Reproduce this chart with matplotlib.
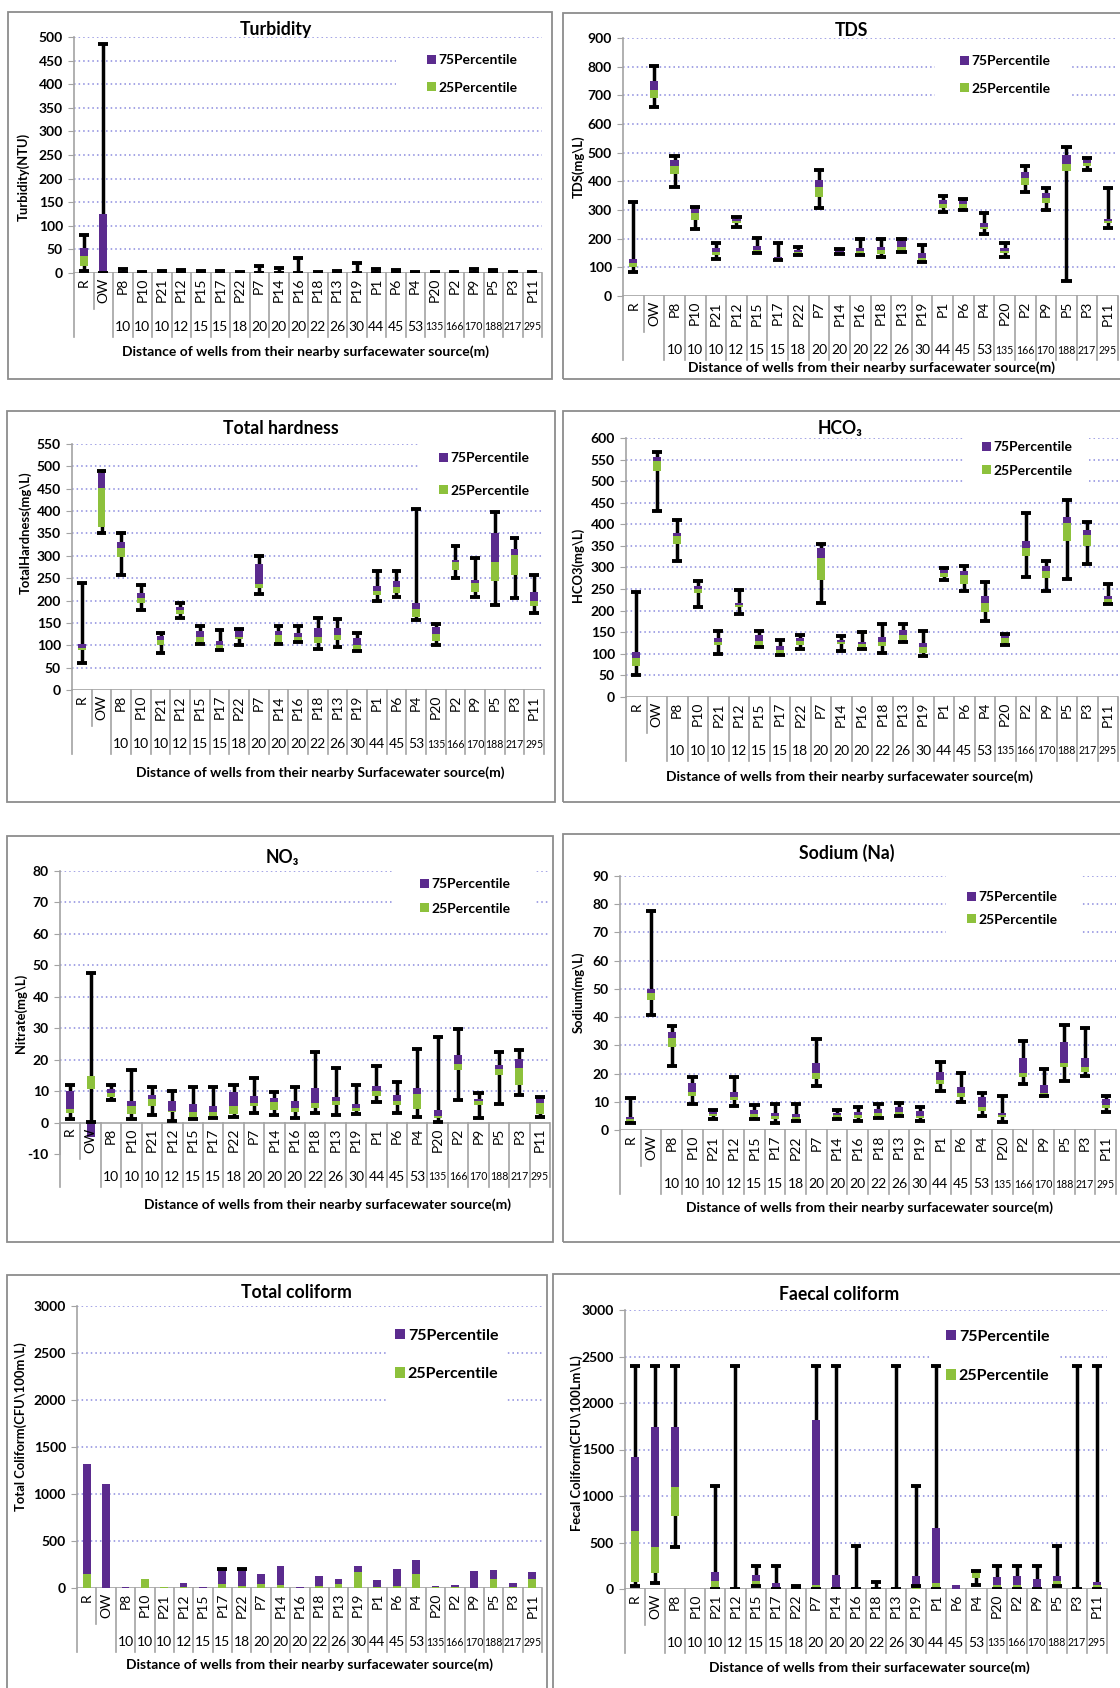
import numpy as np
import matplotlib.pyplot as plt
import matplotlib.transforms as mtransforms
from matplotlib.patches import Rectangle
from matplotlib.lines import Line2D

plt.rcParams['font.family'] = ['Lato', 'DejaVu Sans']

W, H = 1120, 1688
PURPLE = '#5b2b8e'
GREEN = '#8dc13c'
GRID = '#8a8ade'
AXIS = '#a3a3a3'
nan = np.nan

wells = ['R', 'OW', 'P8', 'P10', 'P21', 'P12', 'P15', 'P17', 'P22', 'P7', 'P14', 'P16',
         'P18', 'P13', 'P19', 'P1', 'P6', 'P4', 'P20', 'P2', 'P9', 'P5', 'P3', 'P11']
distance = ['', '', '10', '10', '10', '12', '15', '15', '18', '20', '20', '20',
            '22', '26', '30', '44', '45', '53', '135', '166', '170', '188', '217', '295']

# Turbidity (NTU)
turb_min = [4, 0, 0, 0, 0, 0, 0, 0, 0, 0, 0, 0, 0, 0, 0, 0, 0, 0, 0, 0, 0, 0, 0, 0]
turb_q1 = [14, 0, 1, 0, 1, 1, 1, 1, 0, 1, 1, 1, 0, 1, 1, 1, 1, 0, 0, 0, 1, 1, 0, 0]
turb_med = [35, 0, 2, 1, 2, 2, 2, 2, 1, 2, 2, 2, 1, 2, 2, 2, 2, 1, 1, 1, 2, 2, 1, 1]
turb_q3 = [53, 124, 4, 1, 3, 4, 3, 3, 1, 4, 3, 3, 1, 3, 3, 4, 3, 1, 1, 1, 4, 3, 1, 1]
turb_max = [81, 486, 8, 2, 5, 7, 5, 5, 2, 15, 10, 31, 2, 5, 22, 8, 6, 2, 2, 2, 8, 6, 2, 2]

# TDS (mg/L)
tds_min = [82, 661, 380, 233, 128, 242, 149, 126, 143, 306, 147, 143, 135, 155, 120, 293, 300, 216, 137, 364, 300, 52, 438, 236]
tds_q1 = [100, 690, 425, 265, 143, 254, 152, 128, 150, 347, 150, 150, 145, 158, 122, 307, 308, 232, 150, 388, 325, 435, 455, 255]
tds_med = [115, 720, 452, 289, 155, 262, 162, 132, 155, 380, 155, 158, 160, 172, 132, 321, 320, 240, 158, 410, 342, 462, 465, 262]
tds_q3 = [130, 750, 475, 306, 166, 270, 175, 137, 160, 405, 160, 168, 172, 192, 150, 335, 332, 255, 168, 432, 358, 492, 475, 268]
tds_max = [329, 801, 489, 312, 184, 277, 204, 184, 170, 438, 164, 199, 199, 199, 178, 349, 338, 291, 184, 452, 376, 519, 481, 376]

# Total hardness (mg/L)
th_min = [60, 350, 257, 179, 82, 162, 102, 90, 101, 215, 102, 107, 91, 97, 88, 199, 207, 157, 101, 251, 209, 189, 205, 173]
th_q1 = [90, 365, 298, 195, 100, 170, 108, 95, 115, 228, 108, 108, 105, 112, 90, 213, 217, 164, 110, 268, 220, 243, 256, 187]
th_med = [95, 452, 317, 205, 112, 178, 119, 101, 118, 238, 122, 118, 118, 122, 100, 222, 231, 181, 125, 286, 239, 287, 302, 198]
th_q3 = [103, 485, 332, 217, 120, 185, 131, 110, 132, 282, 132, 128, 138, 138, 116, 233, 243, 194, 140, 290, 246, 352, 316, 219]
th_max = [240, 490, 351, 235, 127, 194, 143, 134, 137, 299, 143, 142, 162, 159, 128, 265, 267, 405, 148, 321, 296, 399, 340, 256]

# HCO3 (mg/L)
hco3_min = [50, 432, 316, 208, 100, 192, 115, 97, 111, 218, 107, 111, 103, 127, 94, 272, 246, 175, 121, 278, 246, 274, 307, 215]
hco3_q1 = [72, 523, 355, 241, 121, 208, 117, 103, 121, 272, 123, 115, 117, 133, 102, 277, 262, 198, 125, 326, 276, 361, 349, 218]
hco3_med = [90, 546, 372, 250, 127, 213, 129, 110, 129, 322, 128, 122, 127, 144, 115, 287, 282, 218, 137, 345, 291, 402, 376, 228]
hco3_q3 = [105, 557, 380, 257, 137, 218, 143, 118, 137, 345, 133, 128, 140, 156, 125, 295, 291, 233, 144, 362, 303, 416, 388, 233]
hco3_max = [243, 567, 411, 268, 154, 249, 152, 133, 144, 354, 142, 150, 169, 169, 152, 299, 303, 266, 146, 426, 316, 457, 405, 262]

# Nitrate (mg/L)
no3_min = [1.1, 0.3, 7.1, 1.0, 2.3, 0.5, 1.1, 1.6, 1.8, 3.0, 2.3, 1.4, 3.0, 2.3, 2.6, 6.5, 3.0, 1.8, 0.3, 7.1, 1.6, 5.8, 8.7, 1.8]
no3_q1 = [3.0, 10.6, 8.0, 2.6, 5.3, 3.2, 1.6, 1.8, 2.6, 5.3, 4.0, 3.2, 4.7, 5.5, 3.7, 8.4, 5.5, 4.4, 1.6, 16.7, 5.5, 15.0, 12.1, 2.6]
no3_med = [4.2, 14.8, 9.3, 5.3, 7.6, 3.8, 3.2, 3.2, 5.3, 6.3, 6.5, 4.7, 6.3, 6.9, 4.7, 10.0, 6.9, 9.0, 2.1, 18.5, 6.9, 17.1, 17.4, 6.1]
no3_q3 = [10.0, 10.3, 10.8, 6.9, 8.7, 6.8, 5.8, 5.3, 9.7, 8.4, 7.9, 6.9, 11.1, 8.1, 6.0, 11.6, 8.7, 11.1, 4.0, 21.6, 7.6, 18.2, 20.1, 7.9]
no3_max = [11.9, 47.7, 11.9, 16.7, 11.3, 10.0, 11.3, 11.3, 11.9, 14.2, 9.7, 11.3, 22.4, 17.4, 11.9, 17.9, 12.9, 23.4, 27.2, 29.6, 9.5, 22.4, 23.2, 8.0]

# Sodium (mg/L)
na_min = [2.6, 40.7, 22.7, 9.1, 3.8, 8.5, 3.8, 2.6, 3.2, 15.7, 3.8, 3.2, 4.4, 5.1, 3.2, 13.9, 10.0, 5.1, 2.7, 16.3, 12.2, 17.4, 19.1, 6.5]
na_q1 = [3.3, 46.0, 29.5, 12.0, 5.0, 10.6, 4.5, 4.0, 4.0, 18.0, 4.5, 4.4, 5.0, 5.7, 4.1, 16.2, 11.8, 6.9, 4.7, 18.7, 11.2, 22.4, 20.7, 7.9]
na_med = [3.8, 48.6, 32.5, 13.6, 5.7, 11.8, 5.7, 5.0, 4.6, 20.1, 5.2, 5.4, 5.9, 6.5, 5.0, 17.7, 13.2, 8.0, 5.3, 20.1, 13.2, 23.6, 22.4, 8.9]
na_q3 = [4.7, 50.0, 34.8, 16.5, 6.5, 13.6, 7.1, 6.0, 5.7, 23.6, 5.9, 6.3, 7.3, 8.3, 6.7, 20.4, 15.4, 11.8, 5.9, 25.4, 15.9, 31.3, 25.4, 11.0]
na_max = [11.5, 77.7, 37.0, 18.9, 7.1, 18.9, 8.9, 9.1, 9.1, 32.2, 7.1, 8.0, 9.1, 9.7, 8.0, 24.2, 20.3, 13.0, 12.0, 31.5, 21.6, 37.2, 36.0, 12.2]

# Total coliform (CFU/100 mL)
tc_min = [nan] * 24
tc_q1 = [0] * 24
tc_med = [146, 0, 5, 92, 8, 10, 5, 46, 25, 46, 30, 5, 20, 40, 170, 15, 20, 146, 10, 10, 0, 92, 10, 92]
tc_q3 = [1324, 1104, 10, 92, 8, 53, 10, 199, 199, 153, 234, 10, 128, 92, 234, 89, 206, 295, 25, 35, 178, 195, 53, 170]
tc_max = [nan, nan, nan, nan, nan, nan, nan, 205, 205, nan, nan, nan, nan, nan, nan, nan, nan, nan, nan, nan, nan, nan, nan, nan]

# Faecal coliform (CFU/100 mL)
fc_min = [32, 65, 450, nan, 0, 0, 36, 0, 0, 0, 0, 0, 0, 0, 29, 0, nan, 40, 0, 0, 0, 29, 0, 0]
fc_q1 = [70, 172, 785, nan, 0, 0, 47, 0, 0, 0, 0, 0, 0, 0, 0, 0, 0, 118, 0, 0, 0, 40, 0, 0]
fc_med = [624, 450, 1097, nan, 90, 15, 82, 0, 0, 47, 15, 0, 0, 0, 10, 64, 0, 185, 40, 40, 25, 82, 0, 47]
fc_q3 = [1420, 1747, 1747, nan, 185, 15, 154, 64, 5, 1819, 154, 20, 0, 0, 143, 655, 40, 185, 129, 143, 107, 143, 0, 72]
fc_max = [2400, 2400, 2400, nan, 1107, 2400, 243, 243, 36, 2400, 2400, 465, 72, 2400, 1110, 2400, nan, 190, 243, 243, 243, 465, 2400, 2400]

fig = plt.figure(figsize=(W / 100, H / 100), dpi=100)


def fx(px):
    return px / W


def fy(py):
    return 1 - py / H


def panel(frame, box, ylim, ystep, stats, title, title_xy, ylabel, ylabel_xy,
          xlabel, xlabel_xy, leg_rect, leg_x, leg_rows, leg_size=10):
    lo, q1, med, q3, hi = [np.asarray(s, dtype=float) for s in stats]

    # grey frame around the whole chart
    fl, ft, fr, fb = frame
    fig.add_artist(Rectangle((fx(fl), fy(fb)), (fr - fl) / W, (fb - ft) / H,
                             transform=fig.transFigure, fill=False,
                             edgecolor='#8c8c8c', lw=1.3))

    left, right, ytop, ybot = box
    ax = fig.add_axes([fx(left), fy(ybot), (right - left) / W, (ybot - ytop) / H])
    ax.set_xlim(-0.5, len(wells) - 0.5)
    ax.set_ylim(*ylim)
    ax.patch.set_alpha(0)
    for s in ['top', 'right', 'bottom']:
        ax.spines[s].set_visible(False)
    ax.spines['left'].set_color(AXIS)
    ax.spines['left'].set_linewidth(1.2)
    ticks = np.arange(ylim[0], ylim[1] + ystep / 2, ystep)
    ax.set_yticks(ticks)
    ax.set_yticklabels([f'{t:g}' for t in ticks], fontsize=10, fontweight='bold')
    ax.tick_params(axis='y', direction='out', length=4, color=AXIS, pad=4)
    ax.set_xticks([])
    for t in ticks:
        if t > 0:
            ax.axhline(t, color=GRID, lw=1.1, ls=(0, (1, 2)), zorder=0.5)
    ax.axhline(0, color=AXIS, lw=1.2, zorder=1.5)

    # stacked boxes: green 25th->median, purple median->75th (negatives hang from zero)
    x = np.arange(len(wells))
    g_h = med - q1
    p_h = q3 - med
    p_bottom = np.where(p_h >= 0, med, 0)
    ax.vlines(x, lo, hi, color='black', lw=2.5, zorder=2)
    pbar = ax.bar(x, p_h, bottom=p_bottom, width=0.4, color=PURPLE, zorder=3)
    gbar = ax.bar(x, g_h, bottom=q1, width=0.4, color=GREEN, zorder=3)
    for v in (lo, hi):
        ax.hlines(v, x - 0.25, x + 0.25, color='black', lw=2.8, zorder=4)

    # white legend background that breaks the gridlines
    rl, rt, rr, rb = leg_rect
    ax.add_patch(Rectangle((fx(rl), fy(rb)), (rr - rl) / W, (rb - rt) / H,
                           transform=fig.transFigure, facecolor='white',
                           edgecolor='none', zorder=1, clip_on=False))
    fs_px = leg_size * 100 / 72
    gap = leg_rows[1] - leg_rows[0]
    ax.legend([pbar, gbar], ['75Percentile', '25Percentile'], loc='center left',
              bbox_to_anchor=(fx(leg_x), fy(sum(leg_rows) / 2)),
              bbox_transform=fig.transFigure, frameon=False,
              prop={'size': leg_size, 'weight': 'bold'},
              handlelength=0.65, handleheight=0.65, handletextpad=0.15,
              labelspacing=(gap - 1.2 * fs_px) / fs_px, borderpad=0, borderaxespad=0)

    # two-level category axis below the zero line
    y0 = ytop + (ylim[1] - 0) / (ylim[1] - ylim[0]) * (ybot - ytop)
    trans = mtransforms.blended_transform_factory(ax.transData, fig.transFigure)
    for i in range(len(wells) + 1):
        depth = 36 if i == 1 else 64
        fig.add_artist(Line2D([i - 0.5, i - 0.5], [fy(y0), fy(y0 + depth)],
                              transform=trans, color=AXIS, lw=1.2))
    for i, (w, d) in enumerate(zip(wells, distance)):
        ax.text(i, fy(y0 + 5), w, rotation=90, ha='center', va='top', fontsize=10,
                transform=trans, clip_on=False)
        # three-digit distances are squeezed so they stay inside their cell
        ax.text(i, fy(y0 + 54), d, ha='center', va='center',
                fontsize=10 if len(d) < 3 else 7.6,
                transform=trans, clip_on=False)

    fig.text(fx(title_xy[0]), fy(title_xy[1]), title, ha='center', va='center',
             fontsize=12.7, fontweight='bold')
    fig.text(fx(ylabel_xy[0]), fy(ylabel_xy[1]), ylabel, rotation=90, ha='center',
             va='center', fontsize=9.4, fontweight='bold')
    fig.text(fx(xlabel_xy[0]), fy(xlabel_xy[1]), xlabel, ha='center', va='center',
             fontsize=10, fontweight='bold')


xl = 'Distance of wells from their nearby surfacewater source(m)'

panel((8, 12, 552, 379), (74, 542, 37, 273), (0, 500), 50,
      (turb_min, turb_q1, turb_med, turb_q3, turb_max),
      'Turbidity', (276, 29), 'Turbidity(NTU)', (23, 177), xl, (306, 352),
      (396, 42, 542, 104), 427, (58, 90))

panel((563, 13, 1130, 379), (623, 1118, 38, 296), (0, 900), 100,
      (tds_min, tds_q1, tds_med, tds_q3, tds_max),
      'TDS', (851, 30), 'TDS(mg\\L)', (578, 167), xl, (871, 368),
      (935, 45, 1072, 105), 960, (59, 91))

panel((7, 411, 555, 802), (72, 544, 444, 690), (0, 550), 50,
      (th_min, th_q1, th_med, th_q3, th_max),
      'Total hardness', (281, 429), 'TotalHardness(mg\\L)', (25, 533),
      'Distance of wells from their nearby Surfacewater source(m)', (320, 773),
      (418, 437, 544, 508), 439, (456, 493))

panel((563, 411, 1130, 802), (626, 1118, 438, 697), (0, 600), 50,
      (hco3_min, hco3_q1, hco3_med, hco3_q3, hco3_max),
      'HCO\u2083', (840, 429), 'HCO3(mg\\L)', (578, 565), xl, (849, 777),
      (964, 432, 1089, 490), 982, (445, 473))

panel((7, 836, 553, 1242), (60, 550, 871, 1154), (-10, 80), 10,
      (no3_min, no3_q1, no3_med, no3_q3, no3_max),
      'NO\u2083', (282, 858), 'Nitrate(mg\\L)', (21, 1013), xl, (328, 1205),
      (393, 866, 536, 924), 420, (882, 911))

panel((563, 834, 1130, 1242), (620, 1116, 876, 1130), (0, 90), 10,
      (na_min, na_q1, na_med, na_q3, na_max),
      'Sodium (Na)', (847, 853), 'Sodium(mg\\L)', (578, 992), xl, (869, 1208),
      (946, 870, 1081, 937), 967, (895, 922))

panel((7, 1275, 547, 1692), (77, 542, 1306, 1588), (0, 3000), 500,
      (tc_min, tc_q1, tc_med, tc_q3, tc_max),
      'Total coliform', (296, 1293), 'Total Coliform(CFU\\100m\\L)', (21, 1427),
      xl, (309, 1665), (386, 1313, 505, 1425), 395, (1333, 1377), leg_size=11.5)

panel((553, 1274, 1130, 1692), (625, 1107, 1310, 1589), (0, 3000), 500,
      (fc_min, fc_q1, fc_med, fc_q3, fc_max),
      'Faecal coliform', (839, 1294), 'Fecal Coliform(CFU\\100Lm\\L)', (577, 1443),
      'Distance of wells from their surfacewater source(m)', (869, 1668),
      (931, 1318, 1058, 1395), 946, (1334, 1379), leg_size=11.5)

fig.savefig('out.png', dpi=100)
